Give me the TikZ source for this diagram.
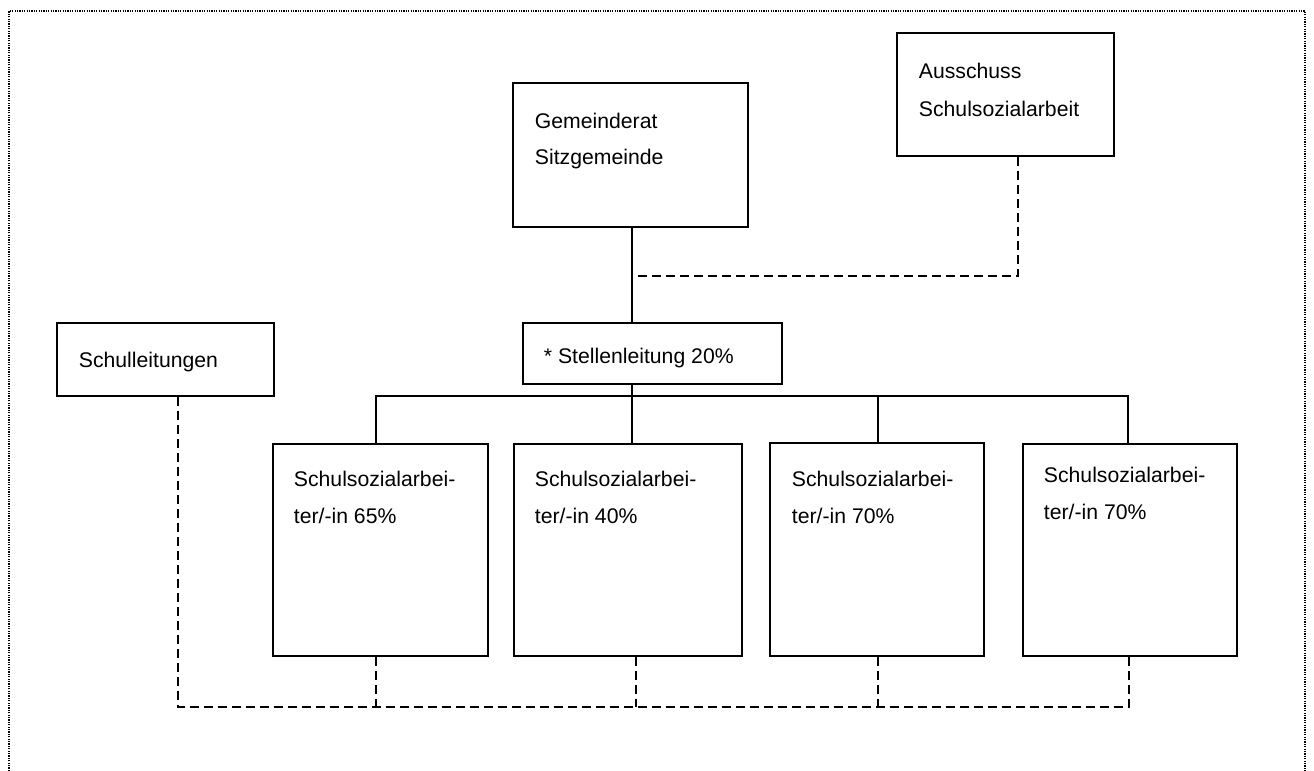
\documentclass[tikz,border=0pt]{standalone}
\usepackage{fontspec}
\setmainfont{Liberation Sans}
\usetikzlibrary{fit}
\begin{document}
\begin{tikzpicture}[x=0.75pt,y=-0.75pt,
  line width=1.4pt,
  box/.style={draw=black, line width=1.5pt, inner sep=0pt},
  txt/.style={anchor=base west, inner sep=0pt, font=\fontsize{15.9pt}{18pt}\selectfont},
  dsh/.style={dash pattern=on 6.5pt off 4pt},
  frame/.style={line width=1.2pt, dash pattern=on 0.9pt off 0.9pt}]
\useasboundingbox (0,0) rectangle (1314,771);
\draw[frame] (9,771) -- (9,11) -- (1305,11) -- (1305,771);

% boxes
\node[box, fit={(513,83) (748,227)}] (gem) {};
\node[box, fit={(897,33) (1114,156)}] (aus) {};
\node[box, fit={(523,323) (782,384)}] (stl) {};
\node[box, fit={(57,323) (274,396)}] (sl) {};
\node[box, fit={(273,444) (488,656)}] (w1) {};
\node[box, fit={(514,444) (742,656)}] (w2) {};
\node[box, fit={(770,443) (984,656)}] (w3) {};
\node[box, fit={(1023,444) (1237,656)}] (w4) {};

% texts
\node[txt] (gemA) at (534,128) {Gemeinderat};
\node[txt] (gemB) at (534,164) {Sitzgemeinde};
\node[txt] (ausA) at (918,78) {Ausschuss};
\node[txt] (ausB) at (918,116) {Schulsozialarbeit};
\node[txt] (stlA) at (543,363) {* Stellenleitung 20\%};
\node[txt] (slA) at (78,367) {Schulleitungen};
\node[txt] (w1A) at (293,486) {Schulsozialarbei-};
\node[txt] (w1B) at (293,523) {ter/-in 65\%};
\node[txt] (w2A) at (534,486) {Schulsozialarbei-};
\node[txt] (w2B) at (534,523) {ter/-in 40\%};
\node[txt] (w3A) at (791,486) {Schulsozialarbei-};
\node[txt] (w3B) at (791,523) {ter/-in 70\%};
\node[txt] (w4A) at (1043,482) {Schulsozialarbei-};
\node[txt] (w4B) at (1043,519) {ter/-in 70\%};

% junction coordinates
\coordinate (c1) at (376,396);
\coordinate (c2) at (632,396);
\coordinate (c3) at (878,396);
\coordinate (c4) at (1128,396);
\coordinate (ad) at (1018,276);
\coordinate (d0) at (178,707);
\coordinate (d1) at (376,707);
\coordinate (d2) at (636,707);
\coordinate (d3) at (878,707);
\coordinate (d4) at (1129,707);

% solid connectors
\draw (gem.south -| c2) -- (stl.north -| c2);
\draw (stl.south -| c2) -- (c2);
\draw (c1 |- w1.north) -- (c1) -- (c4) -- (c4 |- w4.north);
\draw (c2) -- (c2 |- w2.north);
\draw (c3) -- (c3 |- w3.north);

% dashed connectors
\draw[dsh] (aus.south -| ad) -- (ad) -- (ad -| c2);
\draw[dsh] (sl.south -| d0) -- (d0) -- (d4) -- (d4 |- w4.south);
\draw[dsh] (w1.south -| d1) -- (d1);
\draw[dsh] (w2.south -| d2) -- (d2);
\draw[dsh] (w3.south -| d3) -- (d3);
\end{tikzpicture}
\end{document}
